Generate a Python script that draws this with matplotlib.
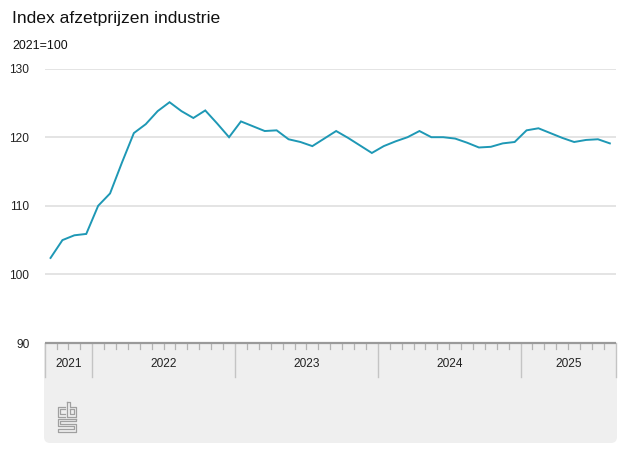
import matplotlib
matplotlib.use("Agg")
import matplotlib.pyplot as plt
from matplotlib.patches import FancyBboxPatch, Rectangle
from matplotlib.lines import Line2D

plt.rcParams['font.family'] = ['Liberation Sans', 'DejaVu Sans']

# ---- data ----
title = "Index afzetprijzen industrie"
unit_label = "2021=100"
years = ["2021", "2022", "2023", "2024", "2025"]
months_per_year = [4, 12, 12, 12, 8]   # Sep 2021 .. Aug 2025
values = [102.4, 105.0, 105.7, 105.9, 110.0, 111.8, 116.3, 120.6, 121.9, 123.8,
          125.1, 123.8, 122.8, 123.9, 122.0, 120.0, 122.3, 121.6, 120.9, 121.0,
          119.7, 119.3, 118.7, 119.8, 120.9, 119.9, 118.8, 117.7, 118.7, 119.4,
          120.0, 120.9, 120.0, 120.0, 119.8, 119.2, 118.5, 118.6, 119.1, 119.3,
          121.0, 121.3, 120.6, 119.9, 119.3, 119.6, 119.7, 119.1]
yticks = [90, 100, 110, 120, 130]

W, H = 627, 470
fig = plt.figure(figsize=(W / 100, H / 100), dpi=100)

def fx(px):
    return px / W

def fy(py):
    return 1 - py / H

x0, x1 = 44.6, 615.8
ytop, ybot = 68.6, 343.0
ax = fig.add_axes([fx(x0), fy(ybot), fx(x1) - fx(x0), fy(ytop) - fy(ybot)])
n = len(values)
xs = [i + 0.5 for i in range(n)]
ax.set_xlim(0, n)
ax.set_ylim(90, 130)
for v in yticks[1:]:
    ax.axhline(v, color="#dcdcdc", lw=1.1, zorder=1)
ax.plot(xs, values, color="#1e98b5", lw=1.4, zorder=3, solid_joinstyle="miter")
for s in ax.spines.values():
    s.set_visible(False)
ax.set_xticks([])
ax.set_yticks(yticks)
ax.set_yticklabels([str(v) for v in yticks], fontsize=8.6, color="#222222")
ax.tick_params(axis="y", length=0, pad=11)

# ---- grey footer box ----
box_top, box_bot = 343.0, 443.0
bx0, bx1 = 44.0, 617.0
r = 6
fig.patches.append(FancyBboxPatch((fx(bx0), fy(box_bot)), fx(bx1) - fx(bx0), fy(box_top) - fy(box_bot),
                                  boxstyle=f"round,pad=0,rounding_size={r / W}",
                                  transform=fig.transFigure, fc="#efefef", ec="none", zorder=-2,
                                  mutation_aspect=W / H))
fig.patches.append(Rectangle((fx(bx0), fy(box_top + 30)), fx(bx1) - fx(bx0), fy(box_top) - fy(box_top + 30),
                             transform=fig.transFigure, fc="#efefef", ec="none", zorder=-2))

# ---- band axis with ticks / year labels ----
band_bot = 377.0
ax2 = fig.add_axes([fx(x0), fy(band_bot), fx(x1) - fx(x0), fy(box_top) - fy(band_bot)])
ax2.set_xlim(0, n)
ax2.set_ylim(1, 0)
ax2.axis("off")
ax2.patch.set_alpha(0)
tick_frac = 6.0 / (band_bot - box_top)
bounds = [0]
for m in months_per_year:
    bounds.append(bounds[-1] + m)
for i in range(n + 1):
    if i in bounds:
        ax2.plot([i, i], [0, 1], color="#c4c4c4", lw=1.0, clip_on=False)
    else:
        ax2.plot([i, i], [0, tick_frac], color="#b4b4b4", lw=0.9, clip_on=False)
for k, yname in enumerate(years):
    c = (bounds[k] + bounds[k + 1]) / 2
    ax2.text(c, 0.62, yname, ha="center", va="center", fontsize=8.6, color="#222222")
ax2.plot([0, n], [0, 0], color="#9a9a9a", lw=1.6, clip_on=False, solid_capstyle="butt")

# ---- CBS logo (simplified outline) ----
lc = "#a0a0a0"
def pl(pts):
    fig.add_artist(Line2D([fx(p[0]) for p in pts], [fy(p[1]) for p in pts],
                          color=lc, lw=0.9, transform=fig.transFigure))
# c
pl([(65.0, 406.5), (57.5, 406.5), (57.5, 416.5), (65.0, 416.5)])
pl([(65.0, 409.0), (60.0, 409.0), (60.0, 414.0), (65.0, 414.0)])
# b
pl([(67.0, 401.5), (67.0, 416.5), (76.0, 416.5), (76.0, 406.5), (69.5, 406.5), (69.5, 401.5), (67.0, 401.5)])
pl([(69.5, 409.0), (73.5, 409.0), (73.5, 414.0), (69.5, 414.0), (69.5, 409.0)])
# S
pl([(76.0, 418.5), (57.5, 418.5), (57.5, 426.0), (73.5, 426.0), (73.5, 429.0), (57.5, 429.0), (57.5, 431.5), (76.0, 431.5), (76.0, 423.5), (60.0, 423.5), (60.0, 421.0), (76.0, 421.0), (76.0, 418.5)])

# ---- titles ----
fig.text(fx(12), fy(18), title, fontsize=12.6, color="#111111", ha="left", va="center")
fig.text(fx(12), fy(46), unit_label, fontsize=8.9, color="#111111", ha="left", va="center")

fig.savefig("out.png", dpi=100)
